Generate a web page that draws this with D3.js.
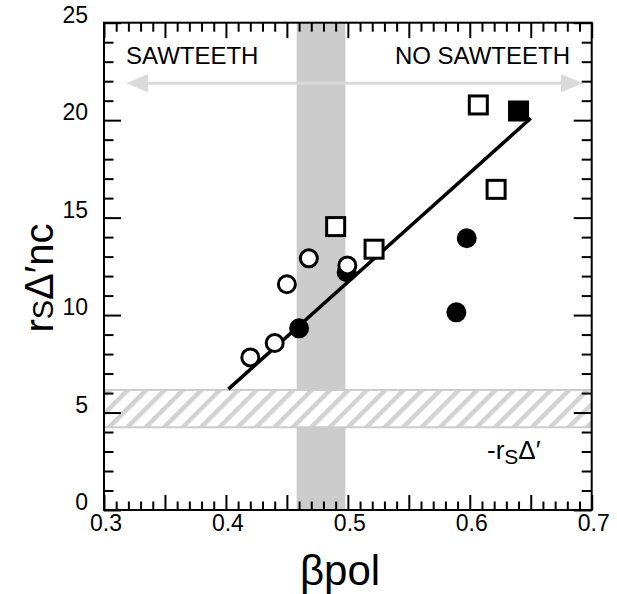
<!DOCTYPE html>
<html>
<head>
<meta charset="utf-8">
<script src="https://cdn.jsdelivr.net/npm/d3@7"></script>
<style>
  html, body { margin: 0; padding: 0; background: #fff; }
  svg { display: block; }
  text { font-family: "Liberation Sans", Arial, Helvetica, sans-serif; fill: #000; }
</style>
</head>
<body>
<svg id="chart" width="617" height="594"></svg>
<script>
// Measurements: poloidal beta vs. normalised stability index
const openCircleX   = [0.420, 0.440, 0.450, 0.468, 0.4996];
const openCircleY   = [7.83, 8.57, 11.58, 12.91, 12.55];
const filledCircleX = [0.460, 0.499, 0.589, 0.5975];
const filledCircleY = [9.32, 12.20, 10.14, 13.94];
const openSquareX   = [0.490, 0.5215, 0.607, 0.6216];
const openSquareY   = [14.54, 13.38, 20.78, 16.45];
const filledSquareX = [0.640];
const filledSquareY = [20.47];

// Linear fit through the points
const fitX = [0.402, 0.650];
const fitY = [6.2, 20.1];

// Threshold bands
const transitionBand = [0.458, 0.498];   // beta_pol range of the sawtooth transition
const deltaBand = [4.25, 6.15];          // -r_s Delta' range

// Axis ticks
const xTickLabels = [0.3, 0.4, 0.5, 0.6, 0.7];
const yTickLabels = [0, 5, 10, 15, 20, 25];

const svg = d3.select("#chart");
const plotLeft = 104, plotRight = 591.7, plotTop = 22.7, plotBottom = 510;

const x = d3.scaleLinear().domain([0.3, 0.7]).range([plotLeft, plotRight]);
const y = d3.scaleLinear().domain([0, 25]).range([plotBottom, plotTop]);

// Hatch pattern for the -r_s Delta' band
const defs = svg.append("defs");
const pat = defs.append("pattern")
  .attr("id", "hatch")
  .attr("patternUnits", "userSpaceOnUse")
  .attr("width", 13).attr("height", 13)
  .attr("patternTransform", "rotate(45)");
pat.append("rect").attr("width", 13).attr("height", 13).attr("fill", "#fff");
pat.append("rect").attr("x", 0).attr("y", 0).attr("width", 4.5).attr("height", 13).attr("fill", "#d2d2d2");

// Vertical grey band
svg.append("rect")
  .attr("x", x(transitionBand[0]))
  .attr("y", plotTop)
  .attr("width", x(transitionBand[1]) - x(transitionBand[0]))
  .attr("height", plotBottom - plotTop)
  .attr("fill", "#cccccc");

// Hatched horizontal band
svg.append("rect")
  .attr("x", plotLeft)
  .attr("y", y(deltaBand[1]))
  .attr("width", plotRight - plotLeft)
  .attr("height", y(deltaBand[0]) - y(deltaBand[1]))
  .attr("fill", "url(#hatch)");
[deltaBand[0], deltaBand[1]].forEach(v => {
  svg.append("line")
    .attr("x1", plotLeft).attr("x2", plotRight)
    .attr("y1", y(v)).attr("y2", y(v))
    .attr("stroke", "#cccccc").attr("stroke-width", 2);
});

// Double-headed arrow
const arrowY = 83.3, arrowL = 126, arrowR = 583, headLen = 22, headHalf = 9;
svg.append("line")
  .attr("x1", arrowL + headLen - 2).attr("x2", arrowR - headLen + 2)
  .attr("y1", arrowY).attr("y2", arrowY)
  .attr("stroke", "#dadada").attr("stroke-width", 3);
svg.append("path")
  .attr("d", `M${arrowL},${arrowY} L${arrowL + headLen},${arrowY - headHalf} L${arrowL + headLen},${arrowY + headHalf} Z`)
  .attr("fill", "#dadada");
svg.append("path")
  .attr("d", `M${arrowR},${arrowY} L${arrowR - headLen},${arrowY - headHalf} L${arrowR - headLen},${arrowY + headHalf} Z`)
  .attr("fill", "#dadada");

svg.append("text").attr("x", 126).attr("y", 63.5)
  .attr("font-size", 24).text("SAWTEETH");
svg.append("text").attr("x", 570).attr("y", 64).attr("text-anchor", "end")
  .attr("font-size", 24).text("NO SAWTEETH");

// Fit line
svg.append("line")
  .attr("x1", x(fitX[0])).attr("y1", y(fitY[0]))
  .attr("x2", x(fitX[1])).attr("y2", y(fitY[1]))
  .attr("stroke", "#000").attr("stroke-width", 3.5);

// Markers
const circR = 8.5, sq = 18;
svg.append("g").selectAll("circle").data(filledCircleX).join("circle")
  .attr("cx", (d) => x(d)).attr("cy", (d, i) => y(filledCircleY[i]))
  .attr("r", circR).attr("fill", "#000").attr("stroke", "#000").attr("stroke-width", 3);
svg.append("g").selectAll("circle").data(openCircleX).join("circle")
  .attr("cx", (d) => x(d)).attr("cy", (d, i) => y(openCircleY[i]))
  .attr("r", circR).attr("fill", "#fff").attr("stroke", "#000").attr("stroke-width", 3);
svg.append("g").selectAll("rect").data(openSquareX).join("rect")
  .attr("x", (d) => x(d) - sq / 2).attr("y", (d, i) => y(openSquareY[i]) - sq / 2)
  .attr("width", sq).attr("height", sq)
  .attr("fill", "#fff").attr("stroke", "#000").attr("stroke-width", 3);
svg.append("g").selectAll("rect").data(filledSquareX).join("rect")
  .attr("x", (d) => x(d) - sq / 2).attr("y", (d, i) => y(filledSquareY[i]) - sq / 2)
  .attr("width", sq).attr("height", sq)
  .attr("fill", "#000").attr("stroke", "#000").attr("stroke-width", 3);

// Axes: inward ticks on all four sides
const xMinor = d3.range(0.3, 0.7001, 0.01).filter(v => Math.abs(Math.round(v * 20) - v * 20) > 1e-6);
const xMid = d3.range(0.35, 0.7, 0.1);
const yMinor = d3.range(0, 25.001, 1).filter(v => v % 5 !== 0);

function styleAxis(g) {
  g.select(".domain").remove();
  g.selectAll(".tick line").attr("stroke", "#000").attr("stroke-width", 2);
  g.selectAll("text").attr("font-family", "Liberation Sans, Arial, sans-serif").attr("fill", "#000");
}

// bottom
svg.append("g").attr("transform", `translate(0,${plotBottom})`)
  .call(d3.axisBottom(x).tickValues(xTickLabels).tickSizeInner(-15).tickSizeOuter(0).tickPadding(4.7).tickFormat(d3.format(".1f")))
  .call(styleAxis)
  .call(g => g.selectAll("text").attr("font-size", 23).attr("dx", 1.5));
svg.append("g").attr("transform", `translate(0,${plotBottom})`)
  .call(d3.axisBottom(x).tickValues(xMid).tickSizeInner(-15).tickSizeOuter(0).tickFormat(""))
  .call(styleAxis);
svg.append("g").attr("transform", `translate(0,${plotBottom})`)
  .call(d3.axisBottom(x).tickValues(xMinor).tickSizeInner(-8.5).tickSizeOuter(0).tickFormat(""))
  .call(styleAxis);
// top
svg.append("g").attr("transform", `translate(0,${plotTop})`)
  .call(d3.axisTop(x).tickValues(xTickLabels.concat(xMid)).tickSizeInner(-15.5).tickSizeOuter(0).tickFormat(""))
  .call(styleAxis);
svg.append("g").attr("transform", `translate(0,${plotTop})`)
  .call(d3.axisTop(x).tickValues(xMinor).tickSizeInner(-9).tickSizeOuter(0).tickFormat(""))
  .call(styleAxis);
// left
svg.append("g").attr("transform", `translate(${plotLeft},0)`)
  .call(d3.axisLeft(y).tickValues(yTickLabels).tickSizeInner(-17).tickSizeOuter(0).tickPadding(16))
  .call(styleAxis)
  .call(g => g.selectAll("text").attr("font-size", 23).attr("dy", "-0.5"));
svg.append("g").attr("transform", `translate(${plotLeft},0)`)
  .call(d3.axisLeft(y).tickValues(yMinor).tickSizeInner(-9.5).tickSizeOuter(0).tickFormat(""))
  .call(styleAxis);
// right
svg.append("g").attr("transform", `translate(${plotRight},0)`)
  .call(d3.axisRight(y).tickValues(yTickLabels).tickSizeInner(-18).tickSizeOuter(0).tickFormat(""))
  .call(styleAxis);
svg.append("g").attr("transform", `translate(${plotRight},0)`)
  .call(d3.axisRight(y).tickValues(yMinor).tickSizeInner(-10).tickSizeOuter(0).tickFormat(""))
  .call(styleAxis);

// Frame
svg.append("rect")
  .attr("x", plotLeft).attr("y", plotTop)
  .attr("width", plotRight - plotLeft).attr("height", plotBottom - plotTop)
  .attr("fill", "none").attr("stroke", "#000").attr("stroke-width", 2);

// Band label
const bandLabel = svg.append("text").attr("x", 487).attr("y", 459).attr("font-size", 26);
bandLabel.append("tspan").text("-r");
bandLabel.append("tspan").attr("font-size", 21).attr("dy", 5).text("S");
bandLabel.append("tspan").attr("dy", -5).text("\u0394\u2032");

// Axis titles
svg.append("text").attr("x", 340).attr("y", 585).attr("text-anchor", "middle")
  .attr("font-size", 42).text("\u03B2pol");

const yTitle = svg.append("text")
  .attr("transform", "translate(53,278) rotate(-90)")
  .attr("text-anchor", "middle")
  .attr("font-size", 40);
yTitle.append("tspan").text("r");
yTitle.append("tspan").attr("font-size", 29).text("S");
yTitle.append("tspan").text("\u0394\u2032nc");
</script>
</body>
</html>
